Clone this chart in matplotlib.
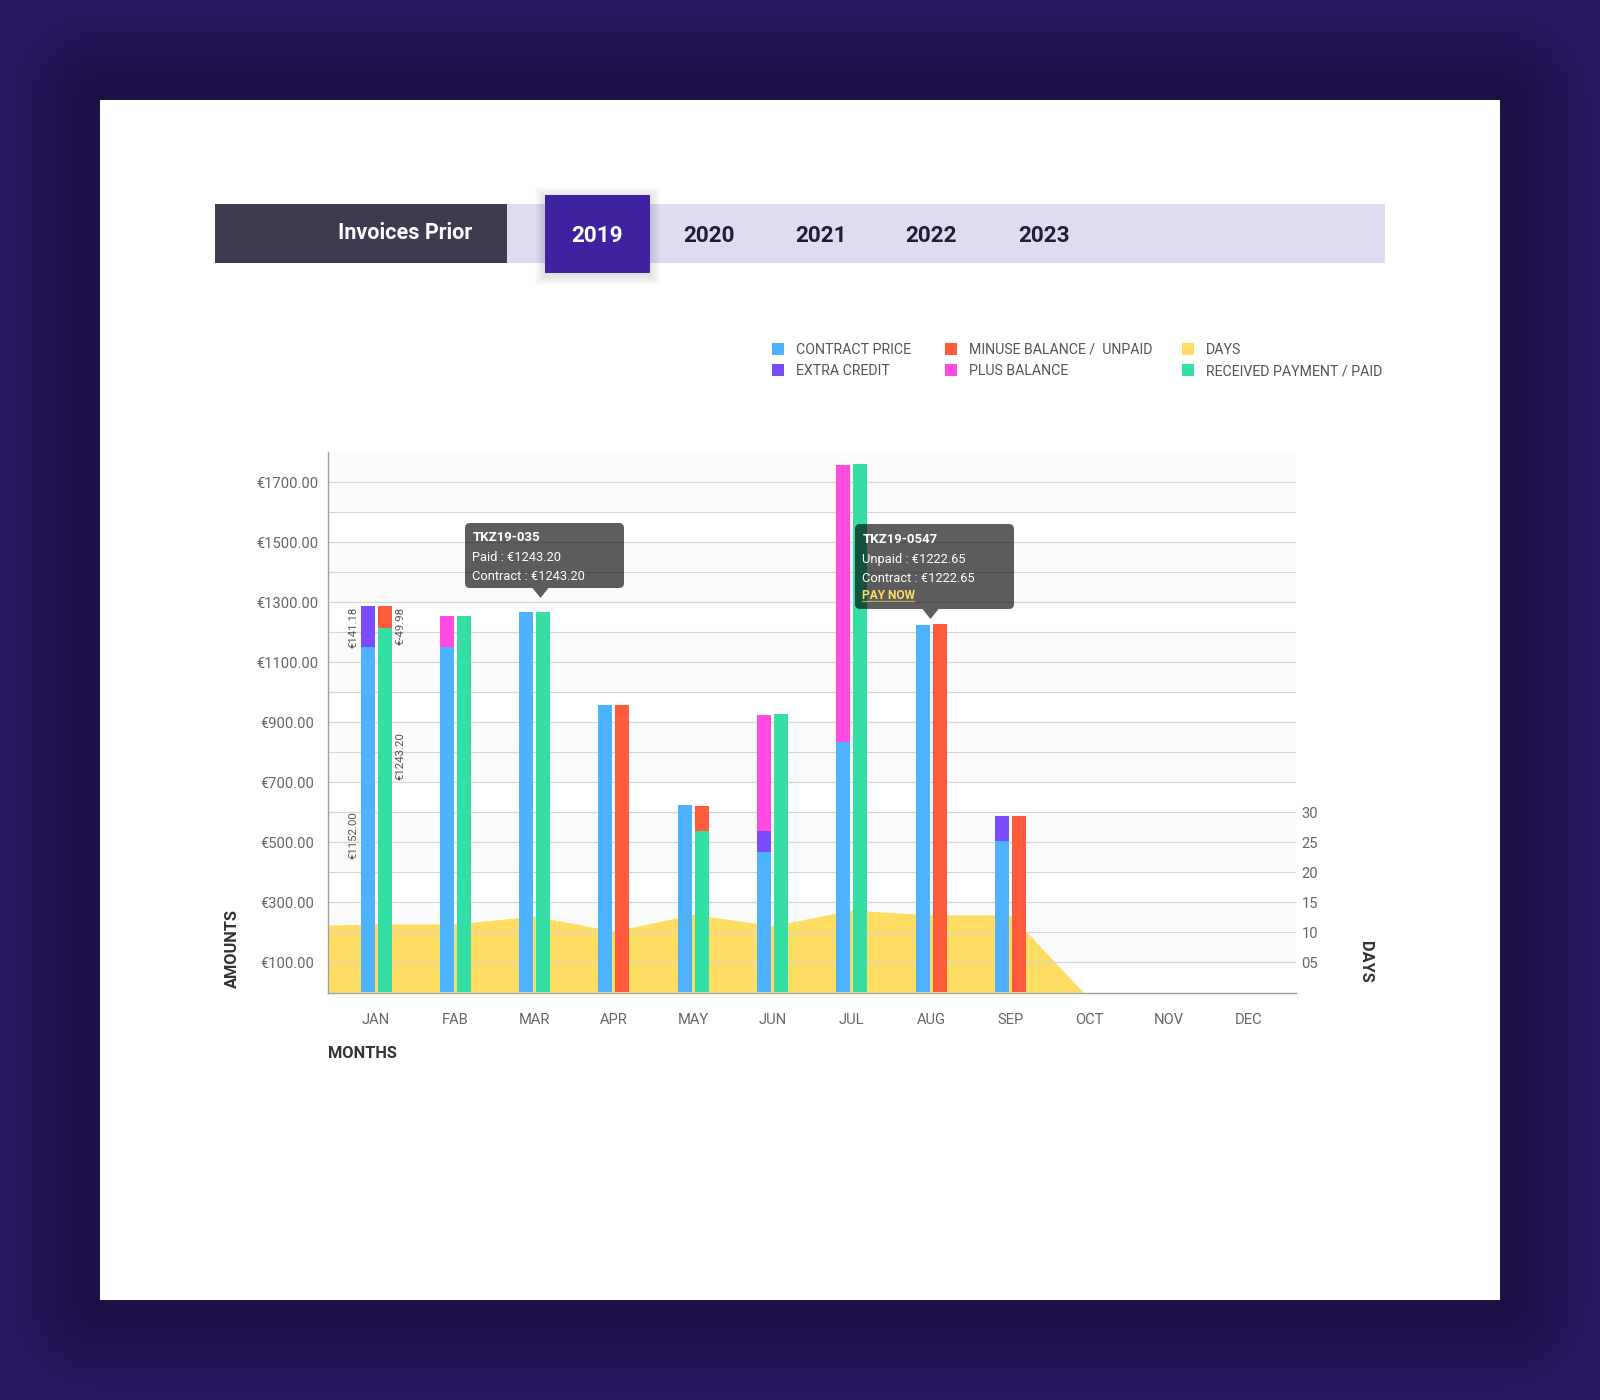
import numpy as np
from matplotlib import pyplot as plt
from matplotlib.patches import FancyBboxPatch, Polygon, Rectangle
from matplotlib.colors import LinearSegmentedColormap

plt.rcParams['font.family'] = ['Roboto', 'DejaVu Sans']

months = ['JAN', 'FAB', 'MAR', 'APR', 'MAY', 'JUN', 'JUL', 'AUG', 'SEP', 'OCT', 'NOV', 'DEC']
contract = [1151, 1151, 1268, 958, 624, 468, 834, 1224, 504, 0, 0, 0]
extra_credit = [137, 0, 0, 0, 0, 71, 0, 0, 84, 0, 0, 0]
plus_balance = [0, 103, 0, 0, 0, 385, 924, 0, 0, 0, 0, 0]
received = [1214, 1254, 1268, 0, 538, 927, 1761, 0, 0, 0, 0, 0]
minus_balance = [74, 0, 0, 958, 83, 0, 0, 1228, 588, 0, 0, 0]
days = [11.4, 11.4, 12.7, 10.2, 13.0, 11.1, 13.7, 12.9, 12.9, 0, 0, 0]
days_start = 11.2

amount_ticks = [100, 300, 500, 700, 900, 1100, 1300, 1500, 1700]
day_ticks = [5, 10, 15, 20, 25, 30]
day_labels = ['05', '10', '15', '20', '25', '30']
years = ['2019', '2020', '2021', '2022', '2023']

BLUE = '#4fb2ff'
PURPLE = '#7a4bff'
RED = '#ff5a3c'
PINK = '#ff4be0'
YELLOW = '#ffdd62'
GREEN = '#35dea5'
TICK_GREY = '#666666'
GRID_GREY = '#d6d6d6'

W, H = 1600, 1400
fig = plt.figure(figsize=(16, 14), dpi=100)

# page background, darker close to the white card
back = fig.add_axes([0, 0, 1, 1], zorder=0)
yy, xx = np.mgrid[0:H, 0:W]
dx = np.maximum(np.maximum(100 - xx, xx - 1500), 0)
dy = np.maximum(np.maximum(100 - yy, yy - 1300), 0)
dist = np.clip(np.hypot(dx, dy) / 95, 0, 1)
cmap = LinearSegmentedColormap.from_list('page', ['#1d1044', '#27175f'])
back.imshow(dist, cmap=cmap, extent=[0, W, H, 0], aspect='auto', interpolation='bilinear')
back.add_patch(Rectangle((100, 100), 1400, 1200, color='white', lw=0))
back.set_xlim(0, W)
back.set_ylim(H, 0)
back.axis('off')

# main chart, left/right/top/bottom in pixels
left, right, top, bottom = 328, 1296, 452.3, 993
ax = fig.add_axes([left / W, 1 - bottom / H, (right - left) / W, (bottom - top) / H], zorder=1)
ax.patch.set_alpha(0)
step = 79.3
first = 376
x0 = (left - first) / step
x1 = (right - first) / step
x = np.arange(len(months))
bar_w = 14 / step
off = 8.5 / step

# soft bands: two grid rows shaded, one left white
for low in range(0, 1800, 300):
    ax.axhspan(low + 100, low + 300, color='#fbfbfb', lw=0, zorder=0)

area_x = np.concatenate([[x0], x[:9], [x[9] - 0.08], x[10:], [x1]])
area_y = np.concatenate([[days_start], days[:9], [0], days[10:], [0]]) * 20
ax.fill_between(area_x, area_y, color=YELLOW, lw=0, zorder=1)

contract = np.array(contract)
extra_credit = np.array(extra_credit)
plus_balance = np.array(plus_balance)
received = np.array(received)
minus_balance = np.array(minus_balance)

ax.bar(x - off, contract, bar_w, color=BLUE, zorder=3)
ax.bar(x - off, extra_credit, bar_w, bottom=contract, color=PURPLE, zorder=3)
ax.bar(x - off, plus_balance, bar_w, bottom=contract + extra_credit, color=PINK, zorder=3)
ax.bar(x + off, received, bar_w, color=GREEN, zorder=3)
ax.bar(x + off, minus_balance, bar_w, bottom=received, color=RED, zorder=3)

for tx, ty, txt in [(-0.285, 525, '€1152.00'), (-0.285, 1216, '€141.18'),
                    (0.31, 788, '€1243.20'), (0.31, 1222, '€-49.98')]:
    ax.text(tx, ty, txt, rotation=90, ha='center', va='center', fontsize=8.2,
            color='#555555', zorder=4)

ax.set_xlim(x0, x1)
ax.set_ylim(-2.3, 1800)
ax.set_xticks(x)
ax.set_xticklabels(months, fontsize=10.6, color=TICK_GREY)
ax.set_yticks(amount_ticks)
ax.set_yticks(np.arange(200, 1800, 200), minor=True)
ax.set_yticklabels([f'€{v}.00' for v in amount_ticks], fontsize=10.6, color=TICK_GREY, ha='center')
ax.grid(which='both', axis='y', color=GRID_GREY, lw=0.85)
ax.set_axisbelow(False)
ax.tick_params(axis='both', which='both', length=0)
ax.tick_params(axis='x', pad=14.5)
ax.tick_params(axis='y', pad=29.5)
for side in ['top', 'right']:
    ax.spines[side].set_visible(False)
for side in ['left', 'bottom']:
    ax.spines[side].set_color('#a0a0a0')
    ax.spines[side].set_linewidth(1.0)
    ax.spines[side].set_zorder(5)

# days axis shares the same pixel scale, 6 px per day
ax2 = ax.twinx()
ax2.set_ylim(-0.115, 90)
ax2.set_yticks(day_ticks)
ax2.set_yticklabels(day_labels, fontsize=10.6, color=TICK_GREY)
ax2.tick_params(axis='y', length=0, pad=4)
for spine in ax2.spines.values():
    spine.set_visible(False)
ax2.patch.set_alpha(0)

# everything around the chart is placed in pixels
ui = fig.add_axes([0, 0, 1, 1], zorder=3)
ui.set_xlim(0, W)
ui.set_ylim(H, 0)
ui.axis('off')

ui.add_patch(Rectangle((215, 204), 1170, 59, color='#e0dbef', lw=0))
ui.add_patch(Rectangle((215, 204), 292, 59, color='#3f3a4f', lw=0))
for i in range(10):
    ui.add_patch(Rectangle((545 - 10 + i, 195 - 8 + i), 105 + 20 - 2 * i, 78 + 20 - 2 * i,
                           color='black', alpha=0.012, lw=0))
ui.add_patch(Rectangle((545, 195), 105, 78, color='#3f22a0', lw=0))
ui.text(405.5, 233, 'Invoices Prior', color='white', fontsize=15.5, fontweight='bold',
        ha='center', va='center')
for yr, xpos in zip(years, [597.5, 708.5, 820.5, 931.5, 1044]):
    col = 'white' if yr == '2019' else '#231c3b'
    ui.text(xpos, 236, yr, color=col, fontsize=16.2, fontweight='bold', ha='center', va='center')

legend_items = [(772, 349, BLUE, 'CONTRACT PRICE'), (772, 370, PURPLE, 'EXTRA CREDIT'),
                (945, 349, RED, 'MINUSE BALANCE /  UNPAID'), (945, 370, PINK, 'PLUS BALANCE'),
                (1182, 349, YELLOW, 'DAYS'), (1182, 370, GREEN, 'RECEIVED PAYMENT / PAID')]
for lx, ly, col, txt in legend_items:
    ui.add_patch(Rectangle((lx, ly - 6), 12, 12, color=col, lw=0))
    ui.text(lx + 24, ly + 5, txt, fontsize=10.2, color='#555555', va='baseline')

ui.text(232, 949, 'AMOUNTS', rotation=90, fontsize=11.8, fontweight='bold', color='#333333',
        ha='center', va='center')
ui.text(1366, 962, 'DAYS', rotation=270, fontsize=11.8, fontweight='bold', color='#333333',
        ha='center', va='center')
ui.text(328, 1054, 'MONTHS', fontsize=11.8, fontweight='bold', color='#333333', va='center')


def tooltip(x_a, y_a, x_b, y_b, tip_x, tip_y, lines):
    ui.add_patch(FancyBboxPatch((x_a + 4, y_a + 4), x_b - x_a - 8, y_b - y_a - 8,
                                boxstyle='round,pad=4,rounding_size=5', color='black',
                                alpha=0.63, lw=0))
    ui.add_patch(Polygon([(tip_x - 8, y_b), (tip_x + 8, y_b), (tip_x, tip_y)], color='black',
                         alpha=0.63, lw=0))
    for ty, txt, weight, col, size in lines:
        ui.text(x_a + 7.5, ty, txt, fontsize=size, fontweight=weight, color=col, va='center')


tooltip(465, 523, 624, 588, 540.5, 598,
        [(537.5, 'TKZ19-035', 'bold', 'white', 9.5),
         (557.5, 'Paid : €1243.20', 'normal', 'white', 9.3),
         (576.5, 'Contract : €1243.20', 'normal', 'white', 9.3)])
tooltip(855, 524, 1014, 609, 930.5, 619,
        [(539.5, 'TKZ19-0547', 'bold', 'white', 9.5),
         (559.5, 'Unpaid : €1222.65', 'normal', 'white', 9.3),
         (578.5, 'Contract : €1222.65', 'normal', 'white', 9.3),
         (595.5, 'PAY NOW', 'bold', '#ffdd62', 8.6)])
ui.plot([862, 914], [600.7, 600.7], color='#ffdd62', alpha=0.6, lw=1.0)

fig.savefig('out.png', dpi=100)
